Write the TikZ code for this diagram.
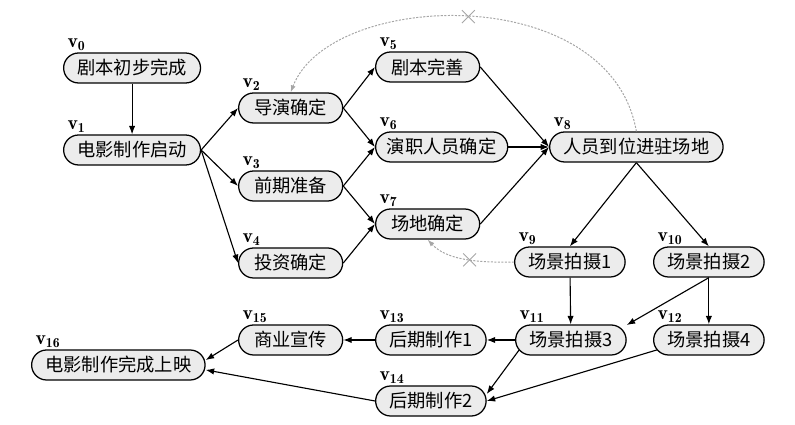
\documentclass[tikz,border=0pt]{standalone}
\usepackage{fontspec}
\newfontfamily\cjk{Noto Sans CJK SC}
\usetikzlibrary{arrows.meta,shapes.misc}
\begin{document}
\begin{tikzpicture}[x=0.025cm, y=-0.025cm,
  box/.style={draw, line width=0.9pt, fill=gray!15, rounded corners=0.375cm, minimum height=0.75cm, minimum width=2.6cm, inner xsep=0.34cm, anchor=west, font=\cjk\fontsize{13}{15}\selectfont},
  vlab/.style={anchor=south west, inner sep=0pt, xshift=3pt, yshift=1pt, font=\fontsize{14}{16}\selectfont},
  edge/.style={line width=0.8pt, -{Latex[length=6pt,width=4.5pt]}},
  back/.style={gray!70, line width=0.7pt, dash pattern=on 1.5pt off 1pt, -{Latex[length=5pt,width=3.5pt]}},
  xmark/.style={cross out, draw=gray!70, line width=0.6pt, minimum size=0.3cm, inner sep=0pt, solid}]
\useasboundingbox (0,0) rectangle (795,425);

\node[box] (v0) at (63,68) {剧本初步完成};
\node[box] (v1) at (63,150) {电影制作启动};
\node[box] (v2) at (238,108) {导演确定};
\node[box] (v3) at (238,186) {前期准备};
\node[box] (v4) at (238,263) {投资确定};
\node[box] (v5) at (375,67) {剧本完善};
\node[box, inner xsep=0.28cm] (v6) at (375,147) {演职人员确定};
\node[box] (v7) at (375,224) {场地确定};
\node[box] (v8) at (549,147) {人员到位进驻场地};
\node[box] (v9) at (514,262) {场景拍摄1};
\node[box] (v10) at (653,262) {场景拍摄2};
\node[box] (v11) at (515,340) {场景拍摄3};
\node[box] (v12) at (653,340) {场景拍摄4};
\node[box] (v13) at (375,340) {后期制作1};
\node[box] (v14) at (375,401) {后期制作2};
\node[box] (v15) at (238,340) {商业宣传};
\node[box] (v16) at (31,365) {电影制作完成上映};

\foreach \i in {0,...,16}
  \node[vlab] (l\i) at (v\i.north -| v\i.west) {$\mathbf{v}_{\mathbf{\i}}$};

\draw[edge] (v0) -- (v1);
\foreach \j in {2,3,4} \draw[edge] (v1.east) -- (v\j.west);
\draw[edge] (v2.east) -- (v5.west);
\draw[edge] (v2.east) -- (v6.west);
\draw[edge] (v3.east) -- (v6.west);
\draw[edge] (v3.east) -- (v7.west);
\draw[edge] (v4.east) -- (v7.west);
\foreach \j in {5,6,7} \draw[edge] (v\j.east) -- (v8.west);
\draw[edge] (v8.south) -- (v9.north);
\draw[edge] (v8.south) -- (v10.north);
\draw[edge] (v9) -- (v11);
\draw[edge] (v10.south) -- (v11.15);
\draw[edge] (v10) -- (v12);
\draw[edge] (v11) -- (v13);
\draw[edge] (v13) -- (v15);
\draw[edge] (v15.west) -- ([yshift=3.5pt]v16.east);
\draw[edge] ([xshift=3pt,yshift=-7pt]v11.west) -- ([yshift=5pt]v14.east);
\draw[edge] ([xshift=3pt,yshift=-7pt]v12.west) -- (v14.east);
\draw[edge] (v14.west) -- ([yshift=-3.5pt]v16.east);

\draw[back] (v8.north) .. controls (610,-20) and (330,-10) .. (v2.north) node[xmark, pos=0.5] (x1) {};
\draw[back] (v9.west) .. controls (470,263) and (445,258) .. (v7.south) node[xmark, pos=0.4] (x2) {};
\end{tikzpicture}
\end{document}
